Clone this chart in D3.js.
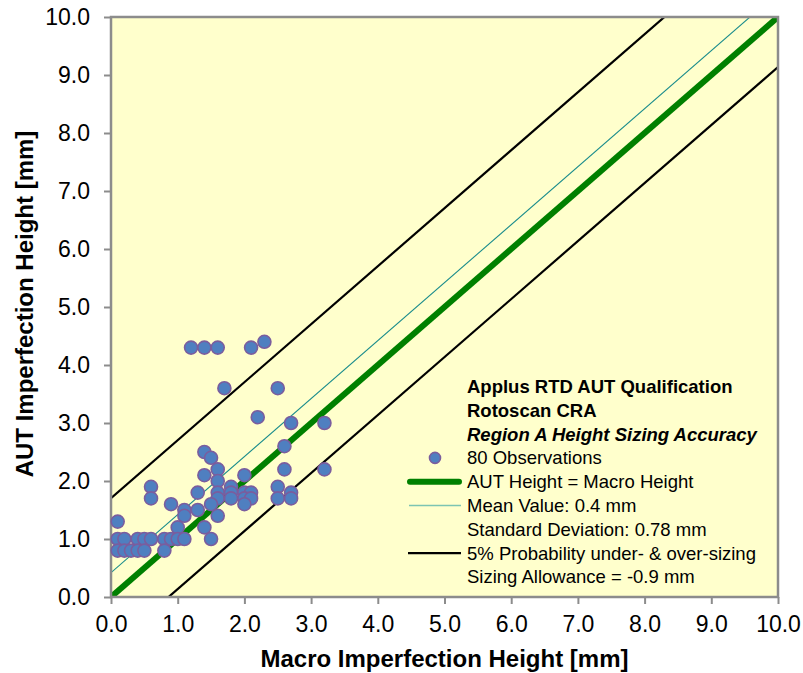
<!DOCTYPE html>
<html>
<head>
<meta charset="utf-8">
<script src="https://cdn.jsdelivr.net/npm/d3@7"></script>
<style>
  body { margin: 0; background: #fff; }
  svg { display: block; font-family: "Liberation Sans", Arial, sans-serif; }
</style>
</head>
<body>
<svg id="chart" width="803" height="673"></svg>
<script>
// observations (macro height, AUT height) in mm
const macroHeight = [
  1.2, 1.4, 1.6, 2.1, 2.3,
  1.7, 2.5, 2.2, 2.7, 3.2,
  2.6, 2.6, 3.2,
  1.4, 1.5, 1.6, 1.4, 2.0,
  1.6, 1.8, 2.5, 0.6, 0.6,
  1.3, 1.6, 1.8, 2.0, 2.1, 2.7,
  1.6, 1.8, 2.0, 2.1, 2.5, 2.7,
  0.9, 1.5, 2.0, 1.1, 1.3, 1.1, 1.6,
  0.1, 1.0, 1.4,
  0.1, 0.2, 0.4, 0.5, 0.6, 0.8, 0.9, 1.0, 1.1, 1.5,
  0.1, 0.2, 0.3, 0.4, 0.5, 0.8
];
const autHeight = [
  4.3, 4.3, 4.3, 4.3, 4.4,
  3.6, 3.6, 3.1, 3.0, 3.0,
  2.6, 2.2, 2.2,
  2.5, 2.4, 2.2, 2.1, 2.1,
  2.0, 1.9, 1.9, 1.9, 1.7,
  1.8, 1.8, 1.8, 1.8, 1.8, 1.8,
  1.7, 1.7, 1.7, 1.7, 1.7, 1.7,
  1.6, 1.6, 1.6, 1.5, 1.5, 1.4, 1.4,
  1.3, 1.2, 1.2,
  1.0, 1.0, 1.0, 1.0, 1.0, 1.0, 1.0, 1.0, 1.0, 1.0,
  0.8, 0.8, 0.8, 0.8, 0.8, 0.8
];
const axisTicks = [0, 1, 2, 3, 4, 5, 6, 7, 8, 9, 10];
const meanValue = 0.42;
const stdDev = 0.78;
const probFactor = 1.645;
const legendLines = [
  "Applus RTD AUT Qualification",
  "Rotoscan CRA",
  "Region A Height Sizing Accuracy",
  "80 Observations",
  "AUT Height = Macro Height",
  "Mean Value: 0.4 mm",
  "Standard Deviation: 0.78 mm",
  "5% Probability under- & over-sizing",
  "Sizing Allowance = -0.9 mm"
];

const svg = d3.select("#chart");
const plot = { left: 111, right: 778, top: 17, bottom: 597 };
const gray = "#8c8c8c";

const x = d3.scaleLinear().domain([0, 10]).range([plot.left, plot.right]);
const y = d3.scaleLinear().domain([0, 10]).range([plot.bottom, plot.top]);

svg.append("rect")
  .attr("x", plot.left).attr("y", plot.top)
  .attr("width", plot.right - plot.left).attr("height", plot.bottom - plot.top)
  .attr("fill", "#ffffcc");

svg.append("clipPath").attr("id", "plot-clip")
  .append("rect")
  .attr("x", plot.left).attr("y", plot.top)
  .attr("width", plot.right - plot.left).attr("height", plot.bottom - plot.top);

const lines = svg.append("g").attr("clip-path", "url(#plot-clip)");

function offsetLine(offset, stroke, width) {
  lines.append("line")
    .attr("x1", x(0)).attr("y1", y(offset))
    .attr("x2", x(10)).attr("y2", y(10 + offset))
    .attr("stroke", stroke)
    .attr("stroke-width", width);
}

offsetLine(meanValue + probFactor * stdDev, "#000", 2.2);
offsetLine(meanValue - probFactor * stdDev, "#000", 2.2);
offsetLine(meanValue, "#1a8c8c", 1.1);
offsetLine(0, "#008000", 6);

// axes
const xAxis = d3.axisBottom(x).tickValues(axisTicks).tickSize(7).tickPadding(12)
  .tickFormat(d3.format(".1f"));
const yAxis = d3.axisLeft(y).tickValues(axisTicks).tickSize(7).tickPadding(14)
  .tickFormat(d3.format(".1f"));

const gx = svg.append("g").attr("transform", `translate(0,${plot.bottom})`).call(xAxis);
const gy = svg.append("g").attr("transform", `translate(${plot.left},0)`).call(yAxis);

[gx, gy].forEach((g) => {
  g.select(".domain").remove();
  g.selectAll(".tick line").attr("stroke", gray).attr("stroke-width", 2);
  g.selectAll(".tick text")
    .attr("fill", "#000")
    .style("font-size", "23px")
    .style("font-family", "'Liberation Sans', Arial, sans-serif");
});

svg.append("rect")
  .attr("x", plot.left).attr("y", plot.top)
  .attr("width", plot.right - plot.left).attr("height", plot.bottom - plot.top)
  .attr("fill", "none")
  .attr("stroke", gray)
  .attr("stroke-width", 2.5);

// observations
const points = macroHeight.map((m, i) => ({ m, a: autHeight[i] }));
svg.append("g")
  .selectAll("circle")
  .data(points)
  .join("circle")
  .attr("cx", (d) => x(d.m))
  .attr("cy", (d) => y(d.a))
  .attr("r", 6.5)
  .attr("fill", "#4f7fc0")
  .attr("stroke", "#7a5d9e")
  .attr("stroke-width", 1.6);

// axis titles
svg.append("text")
  .attr("x", (plot.left + plot.right) / 2)
  .attr("y", 667)
  .attr("text-anchor", "middle")
  .style("font-size", "24px")
  .style("font-weight", "bold")
  .text("Macro Imperfection Height [mm]");

svg.append("text")
  .attr("transform", "translate(33,304) rotate(-90)")
  .attr("text-anchor", "middle")
  .style("font-size", "24px")
  .style("font-weight", "bold")
  .text("AUT Imperfection Height [mm]");

// legend
const legend = svg.append("g").attr("transform", "translate(467,393)");
const rowGap = 23.8;

legend.selectAll("text")
  .data(legendLines)
  .join("text")
  .attr("x", 0)
  .attr("y", (d, i) => i * rowGap)
  .style("font-size", "18.5px")
  .style("font-weight", (d, i) => (i < 3 ? "bold" : "normal"))
  .style("font-style", (d, i) => (i === 2 ? "italic" : "normal"))
  .text((d) => d);

const rowMid = (i) => i * rowGap - 6.5;

legend.append("circle")
  .attr("cx", -32).attr("cy", rowMid(3))
  .attr("r", 5.5)
  .attr("fill", "#4f7fc0")
  .attr("stroke", "#7a5d9e")
  .attr("stroke-width", 1.6);

legend.append("line")
  .attr("x1", -57).attr("x2", -8)
  .attr("y1", rowMid(4)).attr("y2", rowMid(4))
  .attr("stroke", "#008000").attr("stroke-width", 6)
  .attr("stroke-linecap", "round");

legend.append("line")
  .attr("x1", -58).attr("x2", -6)
  .attr("y1", rowMid(5)).attr("y2", rowMid(5))
  .attr("stroke", "#7cc4b2").attr("stroke-width", 1.6);

legend.append("line")
  .attr("x1", -59).attr("x2", -6)
  .attr("y1", rowMid(7)).attr("y2", rowMid(7))
  .attr("stroke", "#000").attr("stroke-width", 2.2);
</script>
</body>
</html>
